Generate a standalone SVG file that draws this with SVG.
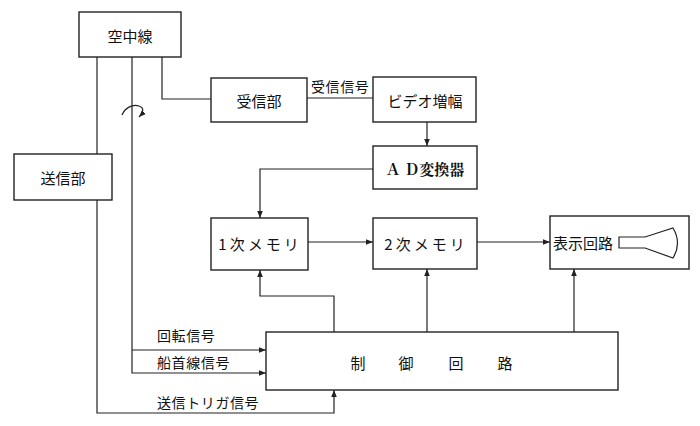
<svg xmlns="http://www.w3.org/2000/svg" width="700" height="426" viewBox="0 0 700 426">
<style>
.b{fill:#fff;stroke:#222;stroke-width:1.4}
.l{fill:none;stroke:#222;stroke-width:1.2}
.t{font-family:"Noto Sans CJK JP","Noto Sans CJK SC",sans-serif;font-size:15px;fill:#111;text-anchor:middle;dominant-baseline:central}
.s{font-family:"Noto Sans CJK JP","Noto Sans CJK SC",sans-serif;font-size:14px;fill:#111;dominant-baseline:central;letter-spacing:0.6px}
.m{letter-spacing:3px}
</style>
<defs>
<marker id="a" viewBox="0 0 10 10" refX="10" refY="5" markerWidth="7" markerHeight="7" orient="auto" markerUnits="userSpaceOnUse"><path d="M0,1 L10,5 L0,9 Z" fill="#222"/></marker>
</defs>
<rect width="700" height="426" fill="#fff"/>
<g id="connectors">
<path class="l" d="M162,57 V99 H211"/>
<path class="l" d="M307,98 H373"/>
<path class="l" d="M427,122 V146" marker-end="url(#a)"/>
<path class="l" d="M373,169 H260 V218" marker-end="url(#a)"/>
<path class="l" d="M308,242 H373" marker-end="url(#a)"/>
<path class="l" d="M477,242 H550" marker-end="url(#a)"/>
<path class="l" d="M334,332 V296 H260 V270" marker-end="url(#a)"/>
<path class="l" d="M427,332 V269" marker-end="url(#a)"/>
<path class="l" d="M574,332 V269" marker-end="url(#a)"/>
<path class="l" d="M97,57 V154"/>
<path class="l" d="M132,57 V373 H266" marker-end="url(#a)"/>
<path class="l" d="M132,350 H266" marker-end="url(#a)"/>
<path class="l" d="M97,200 V413 H334 V390" marker-end="url(#a)"/>
<path class="l" d="M122,115 C125,108 132,104 139,106 C145,108 143,113 139,117" marker-end="url(#a)"/>
</g>
<g id="n-antenna"><rect class="b" x="79" y="12" width="102" height="45"/><text class="t" x="130" y="35">空中線</text></g>
<g id="n-tx"><rect class="b" x="14" y="154" width="98" height="46"/><text class="t" x="63" y="177">送信部</text></g>
<g id="n-rx"><rect class="b" x="211" y="78" width="96" height="44"/><text class="t" x="259" y="100">受信部</text></g>
<text class="s" x="311" y="86">受信信号</text>
<g id="n-video"><rect class="b" x="373" y="77" width="103" height="45"/><text class="t" x="425" y="100">ビデオ増幅</text></g>
<g id="n-ad"><rect class="b" x="373" y="146" width="104" height="43"/><text class="t" x="425" y="168" style="font-family:'Noto Serif CJK JP','Noto Sans CJK JP',serif;font-weight:bold">Ａ Ｄ変換器</text></g>
<g id="n-mem1"><rect class="b" x="211" y="218" width="97" height="52"/><text class="t m" x="260" y="243">1次メモリ</text></g>
<g id="n-mem2"><rect class="b" x="373" y="218" width="104" height="51"/><text class="t m" x="426" y="243">2次メモリ</text></g>
<g id="n-disp"><rect class="b" x="550" y="216" width="139" height="53"/><text class="s" x="553" y="242" style="font-size:15px;letter-spacing:0">表示回路</text>
<path class="l" d="M619,237 H645 L673,228 Q682,243 673,258 L645,248 H619 Z"/></g>
<g id="n-ctrl"><rect class="b" x="266" y="332" width="352" height="58"/>
<text class="t" x="358" y="362">制</text><text class="t" x="406" y="362">御</text><text class="t" x="456" y="362">回</text><text class="t" x="505" y="362">路</text></g>
<text class="s" x="157" y="335">回転信号</text>
<text class="s" x="157" y="362">船首線信号</text>
<text class="s" x="157" y="402">送信トリガ信号</text>
</svg>
